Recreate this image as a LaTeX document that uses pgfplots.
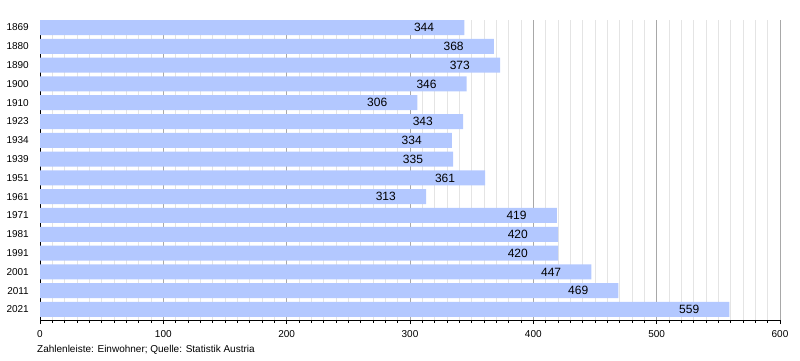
\documentclass[border=0pt]{standalone}
\usepackage{pgfplots}
\pgfplotsset{compat=1.18}
\usepackage{fontspec}
\setmainfont{Liberation Sans}
\definecolor{barblue}{RGB}{179,200,255}
\definecolor{majgrid}{RGB}{168,168,168}
\definecolor{mingrid}{RGB}{228,228,228}
\begin{document}
\begin{tikzpicture}[x=1bp,y=1bp]
\path[use as bounding box] (0,0) rectangle (800,360);
\begin{axis}[
  at={(40bp,40bp)}, anchor=south west,
  scale only axis, width=740bp, height=300bp,
  xmin=0, xmax=600, ymin=-0.4, ymax=15.56,
  y dir=reverse,
  axis x line*=bottom, axis y line*=left,
  axis line style={-, black, line width=0.8bp},
  xtick={0,100,...,600}, minor x tick num=9,
  tick align=outside,
  major tick length=4bp, minor tick length=2.5bp,
  every tick/.style={black, line width=0.6bp},
  xmajorgrids, xminorgrids,
  major grid style={majgrid, line width=0.8bp},
  minor grid style={mingrid, line width=0.8bp},
  ytick={0,...,15},
  yticklabels={1869,1880,1890,1900,1910,1923,1934,1939,1951,1961,1971,1981,1991,2001,2011,2021},
  ytick style={draw=none},
  /pgf/number format/assume math mode=true,
  tick label style={font=\fontsize{10bp}{12bp}\selectfont},
  yticklabel style={inner sep=0pt, xshift=-7bp},
  xticklabel style={inner sep=0pt, yshift=-6bp},
  xbar, bar width=15bp, bar shift=0pt,
  nodes near coords,
  nodes near coords style={anchor=east, inner sep=0pt, xshift=-30bp, font=\fontsize{12bp}{14bp}\selectfont, black},
  clip=false,
]
\addplot[fill=barblue, draw=none] coordinates {
(344,0) (368,1) (373,2) (346,3) (306,4) (343,5) (334,6) (335,7)
(361,8) (313,9) (419,10) (420,11) (420,12) (447,13) (469,14) (559,15)
};
\end{axis}
\node[anchor=west, inner sep=0pt, font=\fontsize{10bp}{12bp}\selectfont] at (37bp,10bp) {Zahlenleiste: Einwohner; Quelle: Statistik Austria};
\end{tikzpicture}
\end{document}
